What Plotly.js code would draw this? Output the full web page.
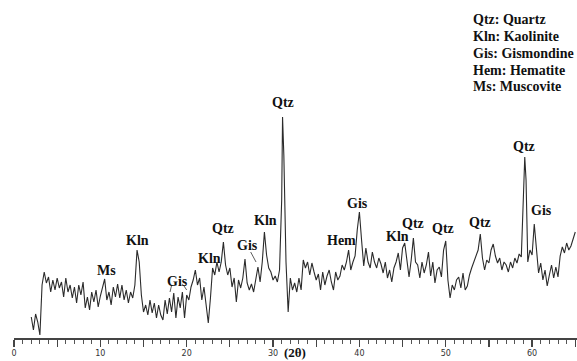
<!DOCTYPE html>
<html>
<head>
<meta charset="utf-8">
<script src="https://cdn.plot.ly/plotly-3.0.1.min.js"></script>
<style>html,body{margin:0;padding:0;background:#fff;}#chart{width:577px;height:361px;}</style>
</head>
<body>
<div id="chart"></div>
<script>
// 2-theta positions (degrees)
const twoTheta = [
2.00,2.25,2.50,2.75,3.00,3.25,3.50,3.75,4.00,4.25,4.50,4.75,5.00,5.25,5.50,5.75,6.00,6.25,6.50,6.75,
7.00,7.25,7.50,7.75,8.00,8.25,8.50,8.75,9.00,9.25,9.50,9.75,10.00,10.25,10.50,10.75,11.00,11.25,11.50,11.75,
12.00,12.25,12.50,12.75,13.00,13.25,13.50,13.75,14.00,14.25,14.50,14.75,15.00,15.25,15.50,15.75,16.00,16.25,16.50,16.75,
17.00,17.25,17.50,17.75,18.00,18.25,18.50,18.75,19.00,19.25,19.50,19.75,20.00,20.25,20.50,20.75,21.00,21.25,21.50,21.75,
22.00,22.25,22.50,22.75,23.00,23.25,23.50,23.75,24.00,24.25,24.50,24.75,25.00,25.25,25.50,25.75,26.00,26.25,26.50,26.75,
27.00,27.25,27.50,27.75,28.00,28.25,28.50,28.75,29.00,29.25,29.50,29.75,30.00,30.25,30.50,30.75,31.00,31.10,31.25,31.50,
31.75,32.00,32.25,32.50,32.75,33.00,33.25,33.50,33.75,34.00,34.25,34.50,34.75,35.00,35.25,35.50,35.75,36.00,36.25,36.50,
36.75,37.00,37.25,37.50,37.75,38.00,38.25,38.50,38.75,39.00,39.25,39.50,39.75,40.00,40.25,40.50,40.75,41.00,41.25,41.50,
41.75,42.00,42.25,42.50,42.75,43.00,43.25,43.50,43.75,44.00,44.25,44.50,44.75,45.00,45.25,45.50,45.75,46.00,46.25,46.50,
46.75,47.00,47.25,47.50,47.75,48.00,48.25,48.50,48.75,49.00,49.25,49.50,49.75,50.00,50.25,50.50,50.75,51.00,51.25,51.50,
51.75,52.00,52.25,52.50,52.75,53.00,53.25,53.50,53.75,54.00,54.25,54.50,54.75,55.00,55.25,55.50,55.75,56.00,56.25,56.50,
56.75,57.00,57.25,57.50,57.75,58.00,58.25,58.50,58.75,59.00,59.15,59.30,59.50,59.75,60.00,60.25,60.50,60.75,61.00,61.25,
61.50,61.75,62.00,62.25,62.50,62.75,63.00,63.25,63.50,63.75,64.00,64.25,64.50,64.75,65.00
];
// intensity (arbitrary units)
const intensity = [
21,8,24,16,3,53,66,55,61,46,58,48,60,50,56,41,60,46,53,40,
51,35,53,43,56,30,41,28,46,36,48,31,42,50,59,38,46,33,51,41,
54,40,53,38,48,35,46,40,53,88,76,43,26,33,23,38,25,35,20,33,
23,18,38,24,40,26,45,20,41,30,46,20,43,38,51,58,68,53,60,38,
51,33,15,40,70,63,76,66,76,96,73,63,70,51,60,36,58,50,60,79,
55,48,54,46,58,71,56,76,106,83,70,66,58,62,56,68,138,221,183,76,
26,60,48,55,46,60,48,78,70,76,63,75,66,58,64,48,66,53,62,68,
56,48,66,58,62,73,68,76,88,68,76,82,108,126,98,72,90,76,70,86,
76,70,80,74,65,76,60,68,56,70,76,85,68,90,95,76,61,78,100,76,
73,60,76,65,73,86,62,76,55,68,71,61,88,97,58,40,53,48,58,61,
50,65,48,52,63,70,76,80,88,104,80,68,78,75,88,94,82,75,80,68,
76,73,66,76,70,80,75,84,81,143,181,158,76,88,83,114,86,65,75,58,
68,52,63,73,60,71,61,82,91,85,95,88,92,100,106
];
// phase labels: text, 2-theta, intensity position
const peakLabels = ["Ms","Kln","Gis","Kln","Qtz","Gis","Kln","Qtz","Hem","Gis","Kln","Qtz","Qtz","Qtz","Qtz","Gis"];
const labelTheta = [10.66,14.31,18.89,22.6,24.22,27.0,29.08,31.17,37.89,39.75,44.38,46.23,49.71,54.0,59.1,61.07];
const labelInt   = [68,98,57,80,110,93,118,236,98,135,102,115,110,116,192,128];
// legend key
const legendLines = ["Qtz: Quartz","Kln: Kaolinite","Gis: Gismondine","Hem: Hematite","Ms: Muscovite"];
const legendInt = [319,302,285,268,252];
// x ticks
const tickVals = [0,5,10,15,20,25,30,35,40,45,50,55,60,65];
const tickText = ["0","","10","","20","","30","","40","","50","","60",""];

const serif = "Liberation Serif, Times New Roman, serif";
const annotations = [];
for (let i = 0; i < peakLabels.length; i++) {
  annotations.push({x: labelTheta[i], y: labelInt[i], xref: 'x', yref: 'y', text: '<b>' + peakLabels[i] + '</b>',
    showarrow: false, xanchor: 'center', yanchor: 'middle', font: {family: serif, size: 14, color: '#111'}});
}
for (let i = 0; i < legendLines.length; i++) {
  annotations.push({x: 0.812, y: legendInt[i], xref: 'paper', yref: 'y', text: '<b>' + legendLines[i] + '</b>',
    showarrow: false, xanchor: 'left', yanchor: 'middle', font: {family: serif, size: 14, color: '#111'}});
}
annotations.push({x: 0.499, y: -0.044, xref: 'paper', yref: 'paper', text: '<b>(2θ)</b>', showarrow: false,
  xanchor: 'center', yanchor: 'middle', font: {family: serif, size: 13, color: '#111'}});

const shapes = [
  {type: 'line', xref: 'x', yref: 'y', x0: 18.26, y0: 53, x1: 18.07, y1: 46, line: {color: '#333', width: 0.8}},
  {type: 'line', xref: 'x', yref: 'y', x0: 19.61, y0: 53, x1: 20.0, y1: 48, line: {color: '#333', width: 0.8}},
  {type: 'line', xref: 'x', yref: 'y', x0: 27.41, y0: 86, x1: 28.03, y1: 76, line: {color: '#333', width: 0.8}}
];

const trace = {x: twoTheta, y: intensity, type: 'scatter', mode: 'lines',
  line: {color: '#2b2b2b', width: 1.1}, hoverinfo: 'skip'};

const layout = {
  width: 577, height: 361,
  margin: {l: 14, r: 0, t: 0, b: 23, pad: 0},
  paper_bgcolor: '#ffffff', plot_bgcolor: '#ffffff',
  showlegend: false,
  xaxis: {range: [0, 65.2], showgrid: false, zeroline: false, showline: true, linecolor: '#444', linewidth: 1.5,
    tickmode: 'array', tickvals: tickVals, ticktext: tickText, ticks: 'outside', ticklen: 7, tickwidth: 1.2, tickcolor: '#444',
    tickfont: {family: 'DejaVu Sans, sans-serif', size: 8, color: '#333'},
    minor: {dtick: 1, ticks: 'outside', ticklen: 4, tickwidth: 1, tickcolor: '#555'}},
  yaxis: {range: [0, 338], visible: false, showgrid: false, zeroline: false},
  annotations: annotations,
  shapes: shapes
};
Plotly.newPlot('chart', [trace], layout, {displayModeBar: false, staticPlot: true});
</script>
</body>
</html>
